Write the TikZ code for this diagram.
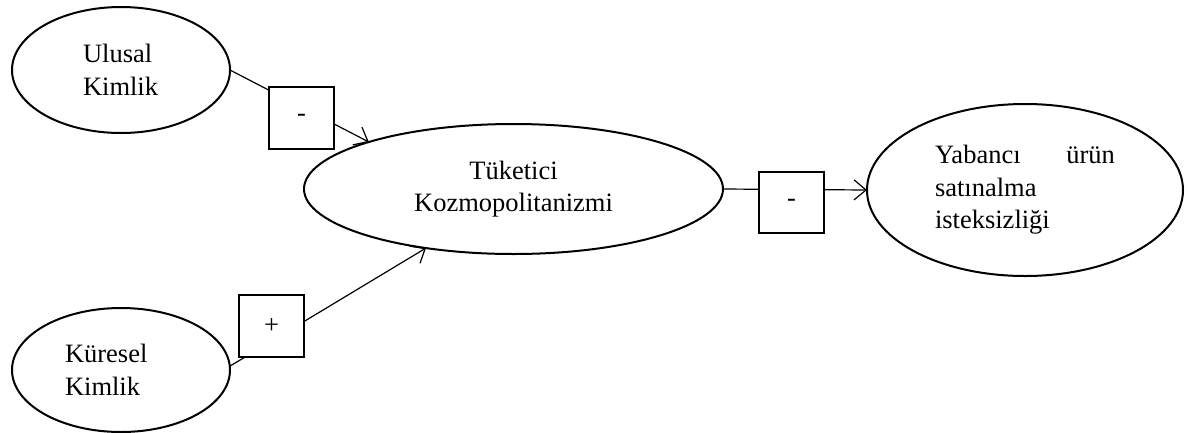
\documentclass[tikz,border=0pt]{standalone}
\usepackage{fontspec}
\setmainfont{Liberation Serif}
\usetikzlibrary{shapes.geometric,arrows.meta}
\begin{document}
\begin{tikzpicture}[x=1pt,y=-1pt,
 oval/.style={ellipse,draw,line width=2pt,inner sep=0pt,outer sep=0pt,font=\fontsize{26.5}{32.5}\selectfont},
 signbox/.style={rectangle,draw,fill=white,line width=1.7pt,minimum width=65pt,minimum height=62pt,inner sep=0pt,font=\fontsize{26.5}{32.5}\selectfont},
 link/.style={line width=1.2pt,-{Straight Barb[length=12pt,width=20pt]}}]
\useasboundingbox (0,0) rectangle (1197,432);
\node[oval,minimum width=218pt,minimum height=126pt,text width=76pt,align=left] (U) at (121,70) {Ulusal\\Kimlik};
\node[oval,minimum width=218pt,minimum height=124pt,text width=112pt,align=left] (K) at (121,370) {Küresel\\Kimlik};
\node[oval,minimum width=419pt,minimum height=130pt,align=center] (T) at (513.5,189) {Tüketici\\Kozmopolitanizmi};
\node[oval,minimum width=316pt,minimum height=172pt,align=left] (Y) at (1025,190) {\makebox[180pt][s]{Yabancı\hfill ürün}\\satınalma\\isteksizliği};
\draw[link] (U.east) -- (T.162.7);
\draw[link] (K.2) -- (T.214.7);
\draw[link] (T.east) -- (Y.west);
\node[signbox] (b1) at (301.5,118) {-\hspace{14pt}};
\node[signbox,minimum height=61pt] (b2) at (791.5,202.5) {-\hspace{14pt}};
\node[signbox] (b3) at (271.5,326) {+\hspace{9pt}};
\end{tikzpicture}
\end{document}
